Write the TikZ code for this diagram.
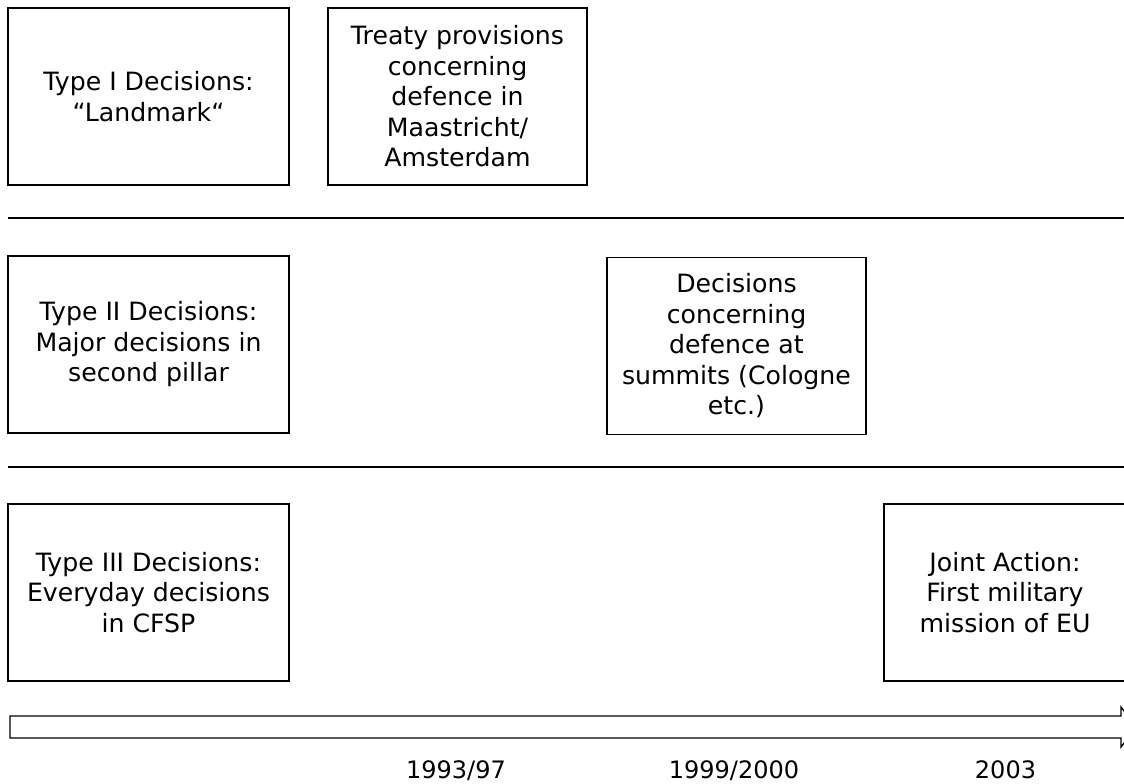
\documentclass[tikz,border=0pt]{standalone}
\usepackage{fontspec}
\setmainfont{DejaVu Sans}
\begin{document}
\begin{tikzpicture}[x=1pt,y=-1pt,
  txt/.style={font=\fontsize{25.2}{30.5}\selectfont},
  decbox/.style={draw, line width=1.4pt, inner sep=0pt, align=center, txt,
    minimum width=#1, minimum height=177pt},
  rule/.style={line width=1.3pt},
  year/.style={font=\fontsize{24}{29}\selectfont, inner sep=0pt, anchor=base}
]
% page frame; anything past it is cut off
\clip (0,0) rectangle (1124,784);

% row 1: landmark decisions
\node[decbox=281pt] (typeI)  at (148.5,96.5) {Type I Decisions:\\“Landmark“};
\node[decbox=259pt] (treaty) at (457.5,96.5) {Treaty provisions\\concerning\\defence in\\Maastricht/\\Amsterdam};

% separator between rows 1 and 2
\coordinate (s1a) at (8,218);
\coordinate (s1b) at (1124,218);
\draw[rule] (s1a) -- (s1b);

% row 2: major decisions
\node[decbox=281pt] (typeII)  at (148.5,344.5) {Type II Decisions:\\Major decisions in\\second pillar};
\node[decbox=259pt] (summits) at (736.5,346)   {Decisions\\concerning\\defence at\\summits (Cologne\\etc.)};

% separator between rows 2 and 3
\coordinate (s2a) at (8,467);
\coordinate (s2b) at (1124,467);
\draw[rule] (s2a) -- (s2b);

% row 3: everyday decisions
\node[decbox=281pt] (typeIII) at (148.5,592.5) {Type III Decisions:\\Everyday decisions\\in CFSP};
\node[decbox=242pt] (joint)   at (1005,592.5)  {Joint Action:\\First military\\mission of EU};

% time axis as an outlined block arrow
\draw[line width=1.3pt, line join=miter]
  (10,716) -- (1121,716) -- (1121,707) -- (1136,727) -- (1121,747)
  -- (1121,738) -- (10,738) -- cycle;

% dates along the axis
\node[year] (y1) at (456,778)    {1993/97};
\node[year] (y2) at (734,778)    {1999/2000};
\node[year] (y3) at (1005.5,778) {2003};
\end{tikzpicture}
\end{document}
